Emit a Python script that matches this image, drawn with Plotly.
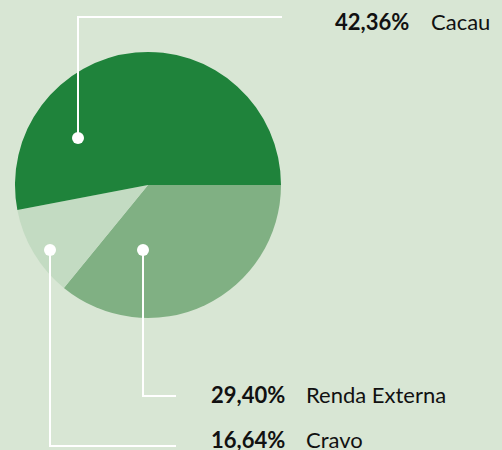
import plotly.graph_objects as go

# Slice shares as drawn in the picture (percent of the pie), clockwise from 3 o'clock
categories = ["Renda Externa", "Cravo", "Cacau"]
slice_shares = [35.9, 11.1, 53.0]
label_percent = ["29,40%", "16,64%", "42,36%"]
colors = ["#80b083", "#c3dbc2", "#1f833b"]

BG = "#d8e6d4"
W, H = 502, 450
cx, cy, r = 148, 185, 133

fig = go.Figure(go.Pie(
    labels=categories, values=slice_shares, sort=False,
    direction="clockwise", rotation=90,
    marker=dict(colors=colors, line=dict(width=0)),
    textinfo="none", hoverinfo="label+percent", showlegend=False,
    domain=dict(x=[(cx - r) / W, (cx + r) / W], y=[(H - cy - r) / H, (H - cy + r) / H]),
))

def px(x):
    return x / W

def py(y):
    return 1 - y / H

shapes = []
lw = 2
# leader lines (pixel coords converted to paper)
leaders = {
    "Cacau": [(78, 138), (78, 17), (282, 17)],
    "Cravo": [(50, 250), (50, 446), (176, 446)],
    "Renda Externa": [(143, 250), (143, 396), (176, 396)],
}
for cat in categories:
    pts = leaders[cat]
    path = "M " + " L ".join(f"{px(x)},{py(y)}" for x, y in pts)
    shapes.append(dict(type="path", path=path, xref="paper", yref="paper",
                       line=dict(color="white", width=lw)))
    x0, y0 = pts[0]
    rr = 6
    shapes.append(dict(type="circle", xref="paper", yref="paper",
                       x0=px(x0 - rr), x1=px(x0 + rr), y0=py(y0 + rr), y1=py(y0 - rr),
                       fillcolor="white", line=dict(width=0)))

label_pos = {
    "Cacau": (333, 429, 22),
    "Cravo": (209, 304, 439),
    "Renda Externa": (209, 304, 394),
}
annotations = []
for cat, pct in zip(categories, label_percent):
    xn, xl, yc = label_pos[cat]
    annotations.append(dict(text=f"<b>{pct}</b>", x=px(xn), y=py(yc), xref="paper", yref="paper",
                            xanchor="left", yanchor="middle", showarrow=False,
                            font=dict(family="Lato", size=22, color="#111111")))
    annotations.append(dict(text=cat, x=px(xl), y=py(yc), xref="paper", yref="paper",
                            xanchor="left", yanchor="middle", showarrow=False,
                            font=dict(family="Lato", size=22, color="#111111")))

fig.update_layout(
    width=W, height=H, margin=dict(l=0, r=0, t=0, b=0),
    paper_bgcolor=BG, plot_bgcolor=BG,
    shapes=shapes, annotations=annotations,
)
fig.write_html("out.html", config={"displayModeBar": False},
               post_script="document.body.style.margin='0';document.body.style.overflow='hidden';")
